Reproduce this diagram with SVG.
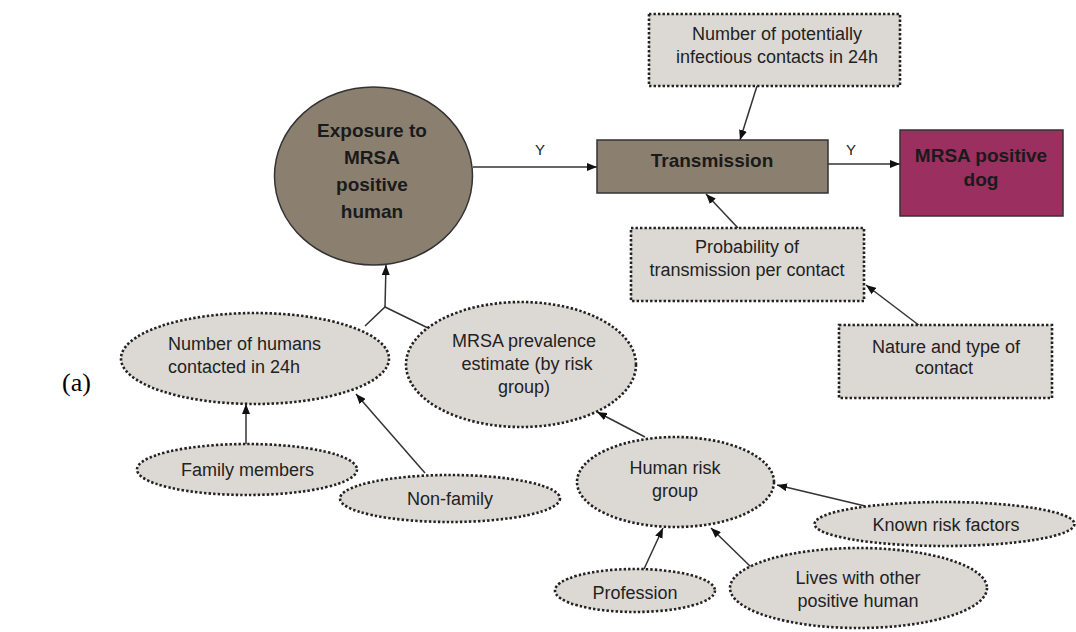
<svg xmlns="http://www.w3.org/2000/svg" width="1076" height="632" viewBox="0 0 1076 632">
<defs>
<marker id="ah" viewBox="0 0 10 8" refX="10" refY="4" markerWidth="10" markerHeight="8" markerUnits="userSpaceOnUse" orient="auto">
<path d="M0,0 L10,4 L0,8 z" fill="#111"/>
</marker>
<style>
.dot{fill:#dcd9d4;stroke:#222;stroke-width:2.6;stroke-dasharray:2.4 2.1}
.main{fill:#8b8070;stroke:#333;stroke-width:1.5}
.dog{fill:#9a2f60;stroke:#333;stroke-width:1.5}
.t{font-family:"Liberation Sans",Arial,sans-serif;font-size:18px;fill:#222;text-anchor:middle}
.b{font-family:"Liberation Sans",Arial,sans-serif;font-size:19px;font-weight:bold;fill:#1a1a1a;text-anchor:middle}
.y{font-family:"Liberation Sans",Arial,sans-serif;font-size:15px;fill:#222;text-anchor:middle}
.c{stroke:#333;stroke-width:1.5;fill:none}
.ca{stroke:#333;stroke-width:1.5;fill:none;marker-end:url(#ah)}
</style>
</defs>
<rect width="1076" height="632" fill="#fff"/>
<text x="62" y="391" style="font-family:'Liberation Serif','Times New Roman',serif;font-size:26px;fill:#000">(a)</text>
<g id="connectors">
<line class="ca" x1="473" y1="167" x2="597" y2="167"/>
<text class="y" x="540" y="155">Y</text>
<line class="ca" x1="828" y1="164" x2="900" y2="164"/>
<text class="y" x="851" y="155">Y</text>
<line class="ca" x1="757" y1="86" x2="740" y2="140"/>
<line class="ca" x1="738" y1="228" x2="706" y2="194"/>
<line class="ca" x1="920" y1="326" x2="866" y2="285"/>
<polyline class="c" points="365,326 385,307 428,328"/>
<line class="ca" x1="385" y1="307" x2="386" y2="265"/>
<line class="ca" x1="246" y1="444" x2="246" y2="404"/>
<line class="ca" x1="425" y1="473" x2="356" y2="394"/>
<line class="ca" x1="645" y1="437" x2="597" y2="412"/>
<line class="ca" x1="865" y1="506" x2="777" y2="485"/>
<line class="ca" x1="644" y1="569" x2="663" y2="528"/>
<line class="ca" x1="752" y1="568" x2="711" y2="528"/>
</g>
<g id="exposure">
<ellipse class="main" cx="373.5" cy="176" rx="99" ry="89"/>
<text class="b" x="372" y="137">Exposure to</text>
<text class="b" x="372" y="164">MRSA</text>
<text class="b" x="372" y="191">positive</text>
<text class="b" x="372" y="218">human</text>
</g>
<g id="transmission">
<rect class="main" x="597" y="140" width="231" height="53"/>
<text class="b" x="712" y="167">Transmission</text>
</g>
<g id="dog">
<rect class="dog" x="900" y="130" width="163" height="86"/>
<text class="b" x="981" y="162">MRSA positive</text>
<text class="b" x="981" y="186">dog</text>
</g>
<g id="contacts">
<rect class="dot" x="649" y="14" width="251" height="72"/>
<text class="t" x="777" y="40">Number of potentially</text>
<text class="t" x="777" y="63">infectious contacts in 24h</text>
</g>
<g id="probability">
<rect class="dot" x="631" y="228" width="233" height="73"/>
<text class="t" x="747" y="253">Probability of</text>
<text class="t" x="747" y="276">transmission per contact</text>
</g>
<g id="nature">
<rect class="dot" x="839" y="325" width="213" height="73"/>
<text class="t" x="946" y="353">Nature and type of</text>
<text class="t" x="944" y="374">contact</text>
</g>
<g id="humans">
<ellipse class="dot" cx="255" cy="358.5" rx="134" ry="45.5"/>
<text class="t" x="168" y="350" style="text-anchor:start">Number of humans</text>
<text class="t" x="168" y="373" style="text-anchor:start">contacted in 24h</text>
</g>
<g id="prevalence">
<ellipse class="dot" cx="521" cy="364.5" rx="115" ry="62.5"/>
<text class="t" x="524" y="347">MRSA prevalence</text>
<text class="t" x="527" y="370">estimate (by risk</text>
<text class="t" x="524" y="393">group)</text>
</g>
<g id="family">
<ellipse class="dot" cx="247" cy="469.5" rx="110" ry="25.5"/>
<text class="t" x="247.5" y="476">Family members</text>
</g>
<g id="nonfamily">
<ellipse class="dot" cx="450" cy="498.5" rx="110" ry="23.5"/>
<text class="t" x="450" y="505">Non-family</text>
</g>
<g id="riskgroup">
<ellipse class="dot" cx="675.5" cy="482" rx="98.5" ry="45"/>
<text class="t" x="675" y="474">Human risk</text>
<text class="t" x="675" y="497">group</text>
</g>
<g id="knownrisk">
<ellipse class="dot" cx="944.5" cy="524" rx="130" ry="22"/>
<text class="t" x="946" y="531">Known risk factors</text>
</g>
<g id="profession">
<ellipse class="dot" cx="635" cy="590.5" rx="80" ry="21.5"/>
<text class="t" x="635" y="599">Profession</text>
</g>
<g id="lives">
<ellipse class="dot" cx="858.5" cy="588" rx="128.5" ry="40"/>
<text class="t" x="858" y="584">Lives with other</text>
<text class="t" x="858" y="607">positive human</text>
</g>
</svg>
